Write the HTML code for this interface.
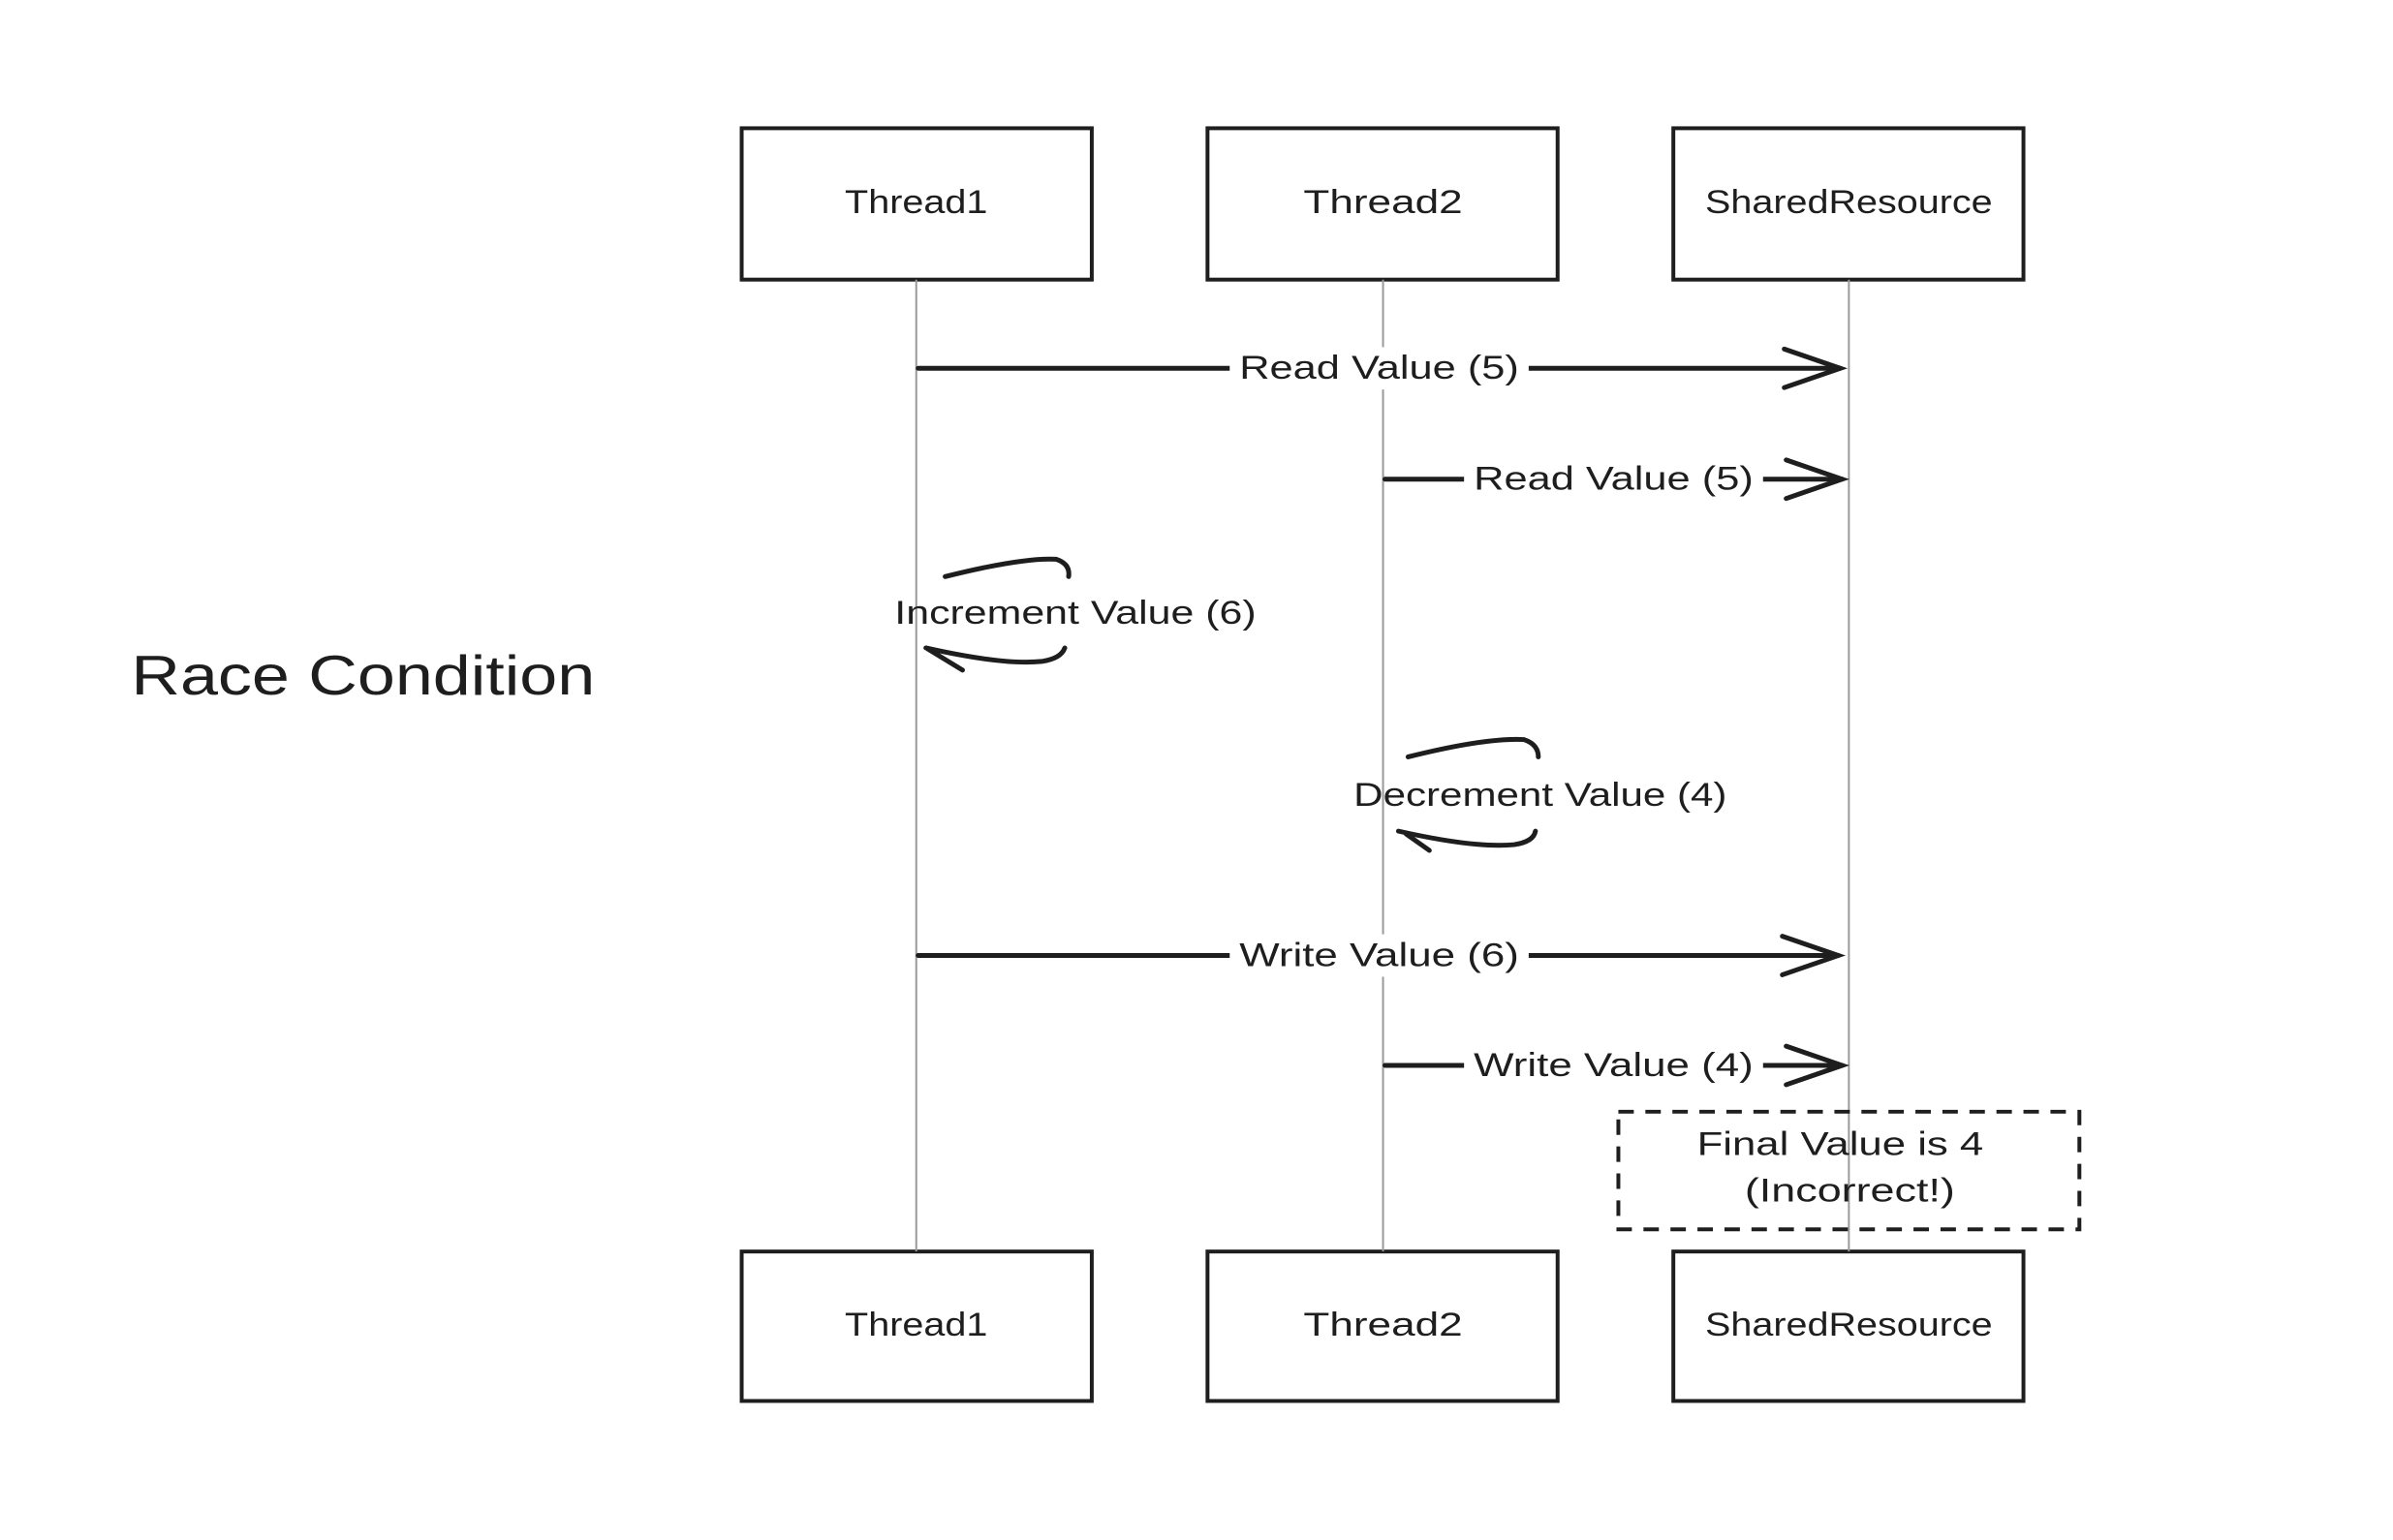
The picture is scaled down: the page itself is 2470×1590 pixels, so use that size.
<!DOCTYPE html>
<html><head><meta charset="utf-8"><style>
html,body{margin:0;padding:0;background:#fff}
svg{display:block}
text{font-family:"Liberation Sans",sans-serif;fill:#1e1e1e}
</style></head><body>
<svg width="2470" height="1590" viewBox="0 0 2470 1590" xmlns="http://www.w3.org/2000/svg">
<g transform="scale(0.9955)">
<g stroke="#1e1e1e" fill="none" stroke-width="4">
<rect x="769" y="133" width="363" height="157"/>
<rect x="1252" y="133" width="363" height="157"/>
<rect x="1735" y="133" width="363" height="157"/>
<rect x="769" y="1298" width="363" height="155"/>
<rect x="1252" y="1298" width="363" height="155"/>
<rect x="1735" y="1298" width="363" height="155"/>
</g>
<g stroke="#999" stroke-width="2">
<line x1="950" y1="290" x2="950" y2="1298"/>
<line x1="1434" y1="290" x2="1434" y2="1298"/>
<line x1="1917" y1="290" x2="1917" y2="1298"/>
</g>
<g stroke="#1e1e1e" stroke-width="5" fill="none" stroke-linecap="round">
<line x1="952" y1="382" x2="1908" y2="382"/>
<polyline points="1850,362 1908,382 1850,402"/>
<line x1="1436" y1="497" x2="1910" y2="497"/>
<polyline points="1852,477 1910,497 1852,517"/>
<line x1="952" y1="991" x2="1906" y2="991"/>
<polyline points="1848,971 1906,991 1848,1011"/>
<line x1="1436" y1="1105" x2="1910" y2="1105"/>
<polyline points="1852,1085 1910,1105 1852,1125"/>
<path d="M980,598 Q1060,578 1095,580 Q1110,585 1108,598"/>
<path d="M960,672 Q1040,690 1080,686 Q1100,683 1104,672"/>
<line x1="962" y1="673" x2="998" y2="695"/>
<path d="M1460,785 Q1540,765 1580,767 Q1595,772 1595,785"/>
<path d="M1450,862 Q1530,880 1570,876 Q1590,873 1592,862"/>
<line x1="1458" y1="865" x2="1482" y2="882"/>
</g>
<g fill="#fff">
<rect x="1275" y="360" width="310" height="44"/>
<rect x="1518" y="475" width="310" height="44"/>
<rect x="1275" y="969" width="310" height="44"/>
<rect x="1518" y="1083" width="310" height="44"/>
</g>
<rect x="1678" y="1153" width="478" height="122" fill="none" stroke="#1e1e1e" stroke-width="4" stroke-dasharray="16,12"/>
<g font-size="34" text-anchor="middle">
<text x="950" y="221" textLength="148" lengthAdjust="spacingAndGlyphs">Thread1</text>
<text x="1434" y="221" textLength="165" lengthAdjust="spacingAndGlyphs">Thread2</text>
<text x="1917" y="221" textLength="298" lengthAdjust="spacingAndGlyphs">SharedResource</text>
<text x="950" y="1385" textLength="148" lengthAdjust="spacingAndGlyphs">Thread1</text>
<text x="1434" y="1385" textLength="165" lengthAdjust="spacingAndGlyphs">Thread2</text>
<text x="1917" y="1385" textLength="298" lengthAdjust="spacingAndGlyphs">SharedResource</text>
<text x="1430" y="393" textLength="290" lengthAdjust="spacingAndGlyphs">Read Value (5)</text>
<text x="1673" y="508" textLength="290" lengthAdjust="spacingAndGlyphs">Read Value (5)</text>
<text x="1115" y="647" textLength="375" lengthAdjust="spacingAndGlyphs">Increment Value (6)</text>
<text x="1597" y="836" textLength="387" lengthAdjust="spacingAndGlyphs">Decrement Value (4)</text>
<text x="1430" y="1002" textLength="290" lengthAdjust="spacingAndGlyphs">Write Value (6)</text>
<text x="1673" y="1116" textLength="290" lengthAdjust="spacingAndGlyphs">Write Value (4)</text>
<text x="1908" y="1198" textLength="297" lengthAdjust="spacingAndGlyphs">Final Value is 4</text>
<text x="1918" y="1246" textLength="218" lengthAdjust="spacingAndGlyphs">(Incorrect!)</text>
</g>
<text x="136" y="720" font-size="58" textLength="481" lengthAdjust="spacingAndGlyphs">Race Condition</text>
</g>
</svg>
</body></html>
